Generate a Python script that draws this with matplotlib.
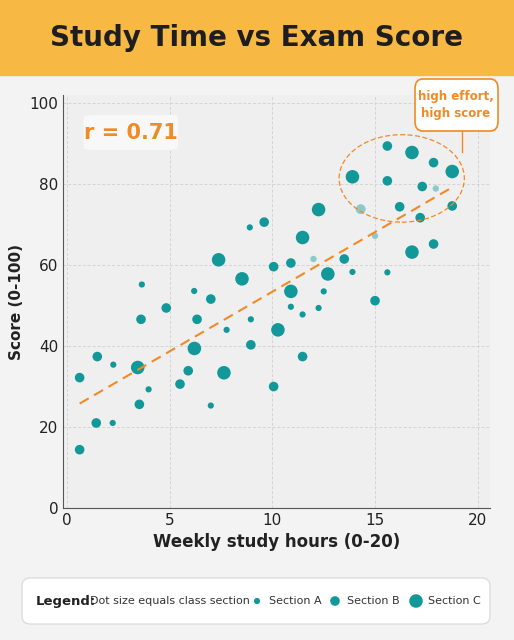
import numpy as np
import matplotlib.pyplot as plt
from matplotlib.patches import FancyBboxPatch, Ellipse

hours = [0.61,0.61,1.42,2.22,1.47,2.25,3.44,3.52,3.97,3.6,3.64,4.83,5.5,5.9,6.2,6.33,6.19,7.0,7.0,7.38,7.64,7.77,8.52,8.9,8.95,8.95,9.6,10.06,10.06,10.27,10.9,10.9,10.9,11.47,11.47,11.47,12.0,12.25,12.25,12.5,12.7,13.5,13.9,13.9,14.3,15.0,15.0,15.6,15.6,15.6,16.2,16.8,16.8,17.2,17.3,17.85,17.85,17.96,18.76,18.76]
scores = [32.2,14.4,21.0,21.0,37.4,35.4,34.7,25.6,29.3,46.6,55.2,49.4,30.6,33.9,39.4,46.6,53.6,51.6,25.3,61.3,33.4,44.0,56.6,69.3,46.6,40.3,70.6,59.6,30.0,44.0,60.5,53.5,49.7,66.8,47.8,37.4,61.5,73.7,49.4,53.5,57.8,61.5,58.3,81.8,73.8,67.2,51.2,89.4,80.8,58.2,74.4,87.8,63.2,71.7,79.4,85.3,65.2,78.9,83.1,74.6]
section = list("BBBABACBABABBBCBABACCACAABBBBCBCACAB" "ACAACBACBABBBABCCBBBBACB")
faded = {36, 44, 45, 57}
size_map = {"A": 20, "B": 48, "C": 95}

teal = "#13989A"
orange = "#F08A24"
bg = "#F3F3F3"

fig = plt.figure(figsize=(5.14, 6.40), dpi=100, facecolor=bg)
fig.patches.append(plt.Rectangle((0, 1 - 75/640), 1, 75/640, transform=fig.transFigure, color="#F7B944", zorder=0))
fig.text(0.5, 1 - 38/640, "Study Time vs Exam Score", ha="center", va="center", fontsize=20, fontweight="bold", color="#1E1E1E")

ax = fig.add_axes([63/514, 1 - 508/640, (490-63)/514, (508-95)/640])
ax.set_facecolor("#EFEFEF")
ax.set_xlim(-0.2, 20.6)
ax.set_ylim(0, 102)
ax.set_xticks([0, 5, 10, 15, 20])
ax.set_yticks([0, 20, 40, 60, 80, 100])
ax.grid(True, color="#D4D4D4", linestyle=(0, (3, 2)), linewidth=0.7)
ax.tick_params(labelsize=11, length=0, colors="#222222")
for s in ["top", "right"]:
    ax.spines[s].set_visible(False)
for s in ["left", "bottom"]:
    ax.spines[s].set_color("#555555")
ax.set_xlabel("Weekly study hours (0-20)", fontsize=12, fontweight="bold", color="#222222")
ax.set_ylabel("Score (0-100)", fontsize=11, fontweight="bold", color="#222222")

n = min(len(hours), len(scores), len(section))
x = np.array(hours[:n]); y = np.array(scores[:n])
sizes = [size_map[section[i]] for i in range(n)]
ax.scatter(x, y, s=sizes, c=teal, edgecolors="none", zorder=3)
for i in faded:
    if i < n:
        ax.scatter([x[i]], [y[i]], s=sizes[i] + 4, c=bg, edgecolors="none", zorder=3.5, alpha=0.55)

m, b = np.polyfit(x, y, 1)
xs = np.array([x.min(), x.max()])
ax.plot(xs, m * xs + b, color=orange, linestyle=(0, (5, 3)), linewidth=1.5, zorder=4)

ax.add_patch(Ellipse((16.3, 81.4), 6.1, 21.6, fill=False, edgecolor=orange, linestyle=(0, (4, 2)), linewidth=0.9, zorder=5))
ax.add_patch(FancyBboxPatch((0.9, 88.5), 4.4, 8.5, boxstyle="round,pad=0.1,rounding_size=0.6", facecolor="#F8F8F8", edgecolor="none", zorder=5))
ax.text(3.1, 92.7, "r = 0.71", ha="center", va="center", fontsize=15, fontweight="bold", color=orange, zorder=6)

fig.patches.append(FancyBboxPatch((415/514, 1 - 131/640), 83/514, 52/640, boxstyle="round,pad=0,rounding_size=0.015",
                                  transform=fig.transFigure, facecolor="white", edgecolor=orange, linewidth=1.2, zorder=6))
fig.text(456/514, 1 - 105/640, "high effort,\nhigh score", ha="center", va="center", fontsize=8.5, fontweight="bold", color=orange, zorder=7, linespacing=1.4)
fig.lines.append(plt.Line2D([462/514, 462/514], [1 - 131/640, 1 - 152/640], transform=fig.transFigure, color=orange, linewidth=1))

# legend
lax = fig.add_axes([0, 1 - 640/640, 1, 80/640]); lax.axis("off")
lax.set_xlim(0, 514); lax.set_ylim(80, 0)  # y in pixels from y=560
lax.add_patch(FancyBboxPatch((22, 18), 468, 46, boxstyle="round,pad=0,rounding_size=8",
                             facecolor="white", edgecolor="#DDDDDD", linewidth=1))
ly = 41
lax.text(36, ly, "Legend:", ha="left", va="center", fontsize=9.5, fontweight="bold", color="#222222")
lax.text(90, ly, "Dot size equals class section", ha="left", va="center", fontsize=8, color="#333333")
for px, lab, k in [(257, "Section A", "A"), (335, "Section B", "B"), (416, "Section C", "C")]:
    lax.scatter([px], [ly], s=size_map[k], c=teal, edgecolors="none", zorder=3)
    lax.text(px + 12, ly, lab, ha="left", va="center", fontsize=8, color="#333333")

fig.savefig("out.png", dpi=100, facecolor=bg)
